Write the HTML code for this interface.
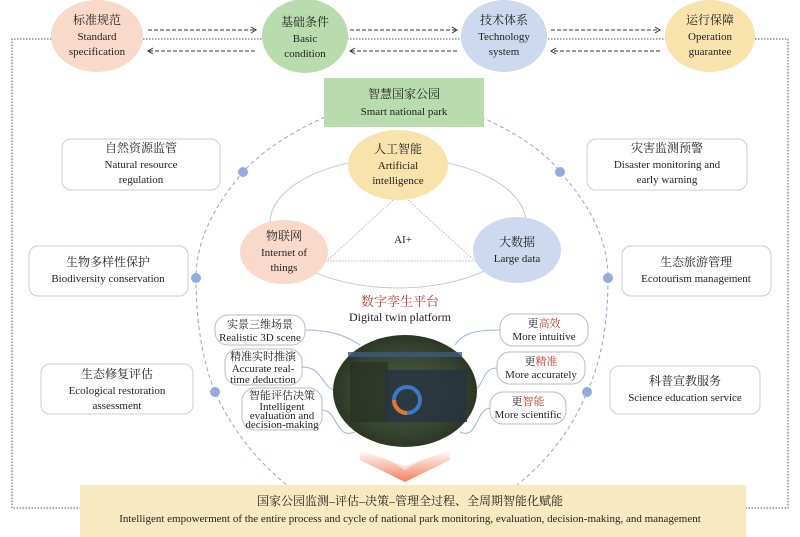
<!DOCTYPE html>
<html><head><meta charset="utf-8"><style>
html,body{margin:0;padding:0;background:#fff}
svg{display:block}
text{font-family:"Liberation Serif","Noto Serif CJK SC","Noto Sans CJK SC",serif;fill:#222;text-anchor:middle}
.cn{font-size:12px}.en{font-size:11px}
</style></head><body>
<svg width="800" height="537" viewBox="0 0 800 537" xmlns="http://www.w3.org/2000/svg">
<defs>
<marker id="ah" markerWidth="8" markerHeight="8" refX="6" refY="4" orient="auto"><path d="M1,1 L6,4 L1,7" fill="none" stroke="#333" stroke-width="1"/></marker>
<radialGradient id="ph" cx="50%" cy="50%" r="55%"><stop offset="0" stop-color="#4a5a44"/><stop offset="0.7" stop-color="#36442f"/><stop offset="1" stop-color="#27301f"/></radialGradient>
<linearGradient id="chev" x1="0" y1="0" x2="0" y2="1"><stop offset="0" stop-color="#fff"/><stop offset="1" stop-color="#ef7a55"/></linearGradient>
</defs>
<path d="M12,508 L12,39 L788,39 L788,508 Z" fill="none" stroke="#555" stroke-width="1" stroke-dasharray="1.5,1.5"/>
<ellipse cx="97" cy="36" rx="46" ry="36" fill="#f9d9c9"/>
<ellipse cx="305" cy="36" rx="43" ry="37" fill="#b9dcae"/>
<ellipse cx="504" cy="36" rx="43" ry="36" fill="#ccd9ee"/>
<ellipse cx="710" cy="36" rx="45" ry="36" fill="#f9e3ad"/>
<text x="97" y="24" class="cn">标准规范</text><text x="97" y="40" class="en">Standard</text><text x="97" y="55" class="en">specification</text>
<text x="305" y="26" class="cn">基础条件</text><text x="305" y="42" class="en">Basic</text><text x="305" y="57" class="en">condition</text>
<text x="504" y="24" class="cn">技术体系</text><text x="504" y="40" class="en">Technology</text><text x="504" y="55" class="en">system</text>
<text x="710" y="24" class="cn">运行保障</text><text x="710" y="40" class="en">Operation</text><text x="710" y="55" class="en">guarantee</text>
<g stroke="#333" stroke-width="1" stroke-dasharray="4,2" fill="none">
<path d="M148,30 L256,30" marker-end="url(#ah)"/>
<path d="M255,51 L148,51" marker-end="url(#ah)"/>
<path d="M350,30 L457,30" marker-end="url(#ah)"/>
<path d="M457,51 L350,51" marker-end="url(#ah)"/>
<path d="M551,30 L660,30" marker-end="url(#ah)"/>
<path d="M660,51 L551,51" marker-end="url(#ah)"/>
</g>
<g fill="none" stroke="#8ea6d3" stroke-width="1" stroke-dasharray="4,3">
<path d="M325,117 C285,135 258,155 243,172 C215,205 196,240 196,278 C196,320 202,360 215,392 C232,430 258,462 287,485"/>
<path d="M481,117 C521,135 548,155 560,172 C590,205 608,240 608,278 C608,320 602,360 587,392 C572,430 546,462 517,485"/>
</g>
<g fill="#94acdb"><circle cx="243" cy="172" r="5"/><circle cx="560" cy="172" r="5"/><circle cx="196" cy="278" r="5"/><circle cx="608" cy="278" r="5"/><circle cx="215" cy="392" r="5"/><circle cx="587" cy="392" r="5"/></g>
<rect x="324" y="78" width="160" height="49" fill="#b9dcae"/>
<text x="404" y="98" class="cn">智慧国家公园</text><text x="404" y="115" class="en">Smart national park</text>
<ellipse cx="398" cy="223" rx="128" ry="65" fill="none" stroke="#c8c8c8" stroke-width="1"/>
<g stroke="#bbb" stroke-dasharray="1.5,1.5" fill="none"><path d="M393,200 L327,261 L475,261 L408,200"/></g>
<text x="403" y="243" class="en">AI+</text>
<ellipse cx="398" cy="165" rx="50" ry="35" fill="#f9e3ad"/>
<text x="398" y="153" class="cn">人工智能</text><text x="398" y="169" class="en">Artificial</text><text x="398" y="184" class="en">intelligence</text>
<ellipse cx="284" cy="252" rx="44" ry="32" fill="#f9d9c9"/>
<text x="284" y="240" class="cn">物联网</text><text x="284" y="256" class="en">Internet of</text><text x="284" y="271" class="en">things</text>
<ellipse cx="517" cy="250" rx="44" ry="33" fill="#ccd9ee"/>
<text x="517" y="246" class="cn">大数据</text><text x="517" y="262" class="en">Large data</text>
<g fill="#fff" stroke="#ccc" stroke-width="1">
<rect x="62" y="139" width="158" height="51" rx="9"/>
<rect x="587" y="139" width="160" height="51" rx="9"/>
<rect x="29" y="246" width="159" height="50" rx="9"/>
<rect x="622" y="246" width="149" height="50" rx="9"/>
<rect x="41" y="364" width="152" height="50" rx="9"/>
<rect x="610" y="366" width="150" height="48" rx="9"/>
</g>
<text x="141" y="152" class="cn">自然资源监管</text><text x="141" y="168" class="en">Natural resource</text><text x="141" y="183" class="en">regulation</text>
<text x="667" y="152" class="cn">灾害监测预警</text><text x="667" y="168" class="en">Disaster monitoring and</text><text x="667" y="183" class="en">early warning</text>
<text x="108" y="266" class="cn">生物多样性保护</text><text x="108" y="282" class="en">Biodiversity conservation</text>
<text x="696" y="266" class="cn">生态旅游管理</text><text x="696" y="282" class="en">Ecotourism management</text>
<text x="117" y="378" class="cn">生态修复评估</text><text x="117" y="394" class="en">Ecological restoration</text><text x="117" y="409" class="en">assessment</text>
<text x="685" y="385" class="cn">科普宣教服务</text><text x="685" y="401" class="en">Science education service</text>
<text x="400" y="306" class="cn" style="fill:#c0392b;font-size:13px">数字孪生平台</text>
<text x="400" y="321" style="font-size:12px">Digital twin platform</text>
<g fill="none" stroke="#9db3dc" stroke-width="1">
<path d="M305,330 C330,330 345,335 360,345"/>
<path d="M302,367 C325,367 320,390 340,392"/>
<path d="M322,410 C338,410 335,440 355,432"/>
<path d="M500,330 C470,330 462,335 455,345"/>
<path d="M497,368 C480,368 485,390 470,392"/>
<path d="M490,408 C475,410 478,440 460,432"/>
</g>
<ellipse cx="405" cy="391" rx="72" ry="56" fill="url(#ph)"/>
<rect x="348" y="352" width="114" height="5" fill="#3d5a82" opacity=".8"/>
<rect x="350" y="362" width="38" height="60" fill="#263024" opacity=".7"/>
<rect x="385" y="370" width="82" height="52" fill="#283440" opacity=".85"/>
<circle cx="407" cy="400" r="13" fill="none" stroke="#3b78c5" stroke-width="4"/>
<path d="M407,413 A13,13 0 0 1 394,400" fill="none" stroke="#e0782f" stroke-width="4"/>
<g fill="#fff" stroke="#bbb" stroke-width="1">
<rect x="215" y="315" width="90" height="30" rx="13"/>
<rect x="225" y="349" width="77" height="36" rx="13"/>
<rect x="242" y="388" width="80" height="42" rx="13"/>
<rect x="500" y="314" width="88" height="32" rx="13"/>
<rect x="497" y="352" width="88" height="32" rx="13"/>
<rect x="490" y="392" width="76" height="32" rx="13"/>
</g>
<g style="font-size:11px">
<text x="260" y="328">实景三维场景</text><text x="260" y="341">Realistic 3D scene</text>
<text x="263" y="360">精准实时推演</text><text x="263" y="372">Accurate real-</text><text x="263" y="383">time deduction</text>
<text x="282" y="399">智能评估决策</text><text x="282" y="410">Intelligent</text><text x="282" y="419">evaluation and</text><text x="282" y="428">decision-making</text>
<text x="544" y="327">更<tspan style="fill:#c0392b">高效</tspan></text><text x="544" y="340">More intuitive</text>
<text x="541" y="365">更<tspan style="fill:#c0392b">精准</tspan></text><text x="541" y="378">More accurately</text>
<text x="528" y="405">更<tspan style="fill:#c0392b">智能</tspan></text><text x="528" y="418">More scientific</text>
</g>
<path d="M360,450 L405,466 L450,450 L450,460 L405,482 L360,460 Z" fill="url(#chev)" opacity=".95"/>
<path d="M372,450 L405,462 L438,450 L405,470 Z" fill="#fff" opacity=".5"/>
<rect x="80" y="485" width="666" height="52" fill="#f9e9c0"/>
<text x="410" y="505" class="cn">国家公园监测–评估–决策–管理全过程、全周期智能化赋能</text>
<text x="410" y="522" class="en">Intelligent empowerment of the entire process and cycle of national park monitoring, evaluation, decision-making, and management</text>
</svg>
</body></html>
